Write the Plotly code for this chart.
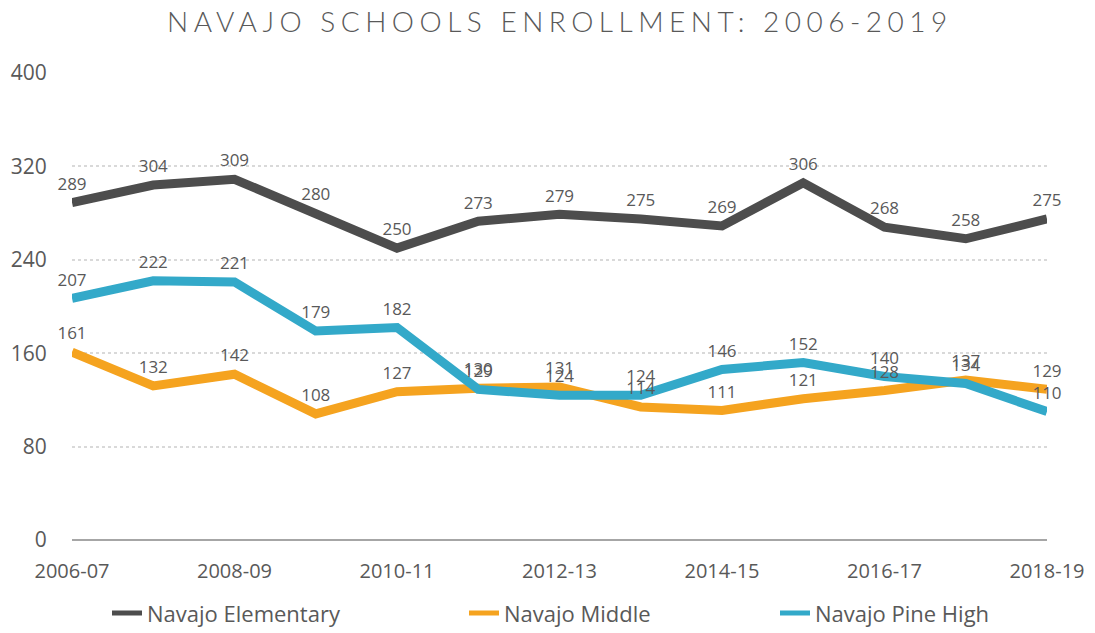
import plotly.graph_objects as go

years = ["2006-07", "2007-08", "2008-09", "2009-10", "2010-11", "2011-12", "2012-13",
         "2013-14", "2014-15", "2015-16", "2016-17", "2017-18", "2018-19"]
elementary = [289, 304, 309, 280, 250, 273, 279, 275, 269, 306, 268, 258, 275]
middle = [161, 132, 142, 108, 127, 130, 131, 114, 111, 121, 128, 137, 129]
pine_high = [207, 222, 221, 179, 182, 129, 124, 124, 146, 152, 140, 134, 110]
y_ticks = [0, 80, 160, 240, 320, 400]
x_ticks = ["2006-07", "2008-09", "2010-11", "2012-13", "2014-15", "2016-17", "2018-19"]

series = [
    ("Navajo Elementary", elementary, "#4d4d4d", "legend"),
    ("Navajo Middle", middle, "#f5a31f", "legend2"),
    ("Navajo Pine High", pine_high, "#33a9c9", "legend3"),
]
FONT = "Open Sans"

fig = go.Figure()
for name, vals, col, leg in series:
    fig.add_trace(go.Scatter(
        x=years, y=vals, name=name, mode="lines", showlegend=False,
        line=dict(color=col, width=9),
        hoverinfo="x+y+name",
    ))
    # legend-only entry with a thinner key line
    fig.add_trace(go.Scatter(
        x=[None], y=[None], name=name, mode="lines", legend=leg,
        line=dict(color=col, width=5), hoverinfo="skip",
    ))
# value labels
for name, vals, col, leg in series:
    fig.add_trace(go.Scatter(
        x=years, y=vals, mode="markers+text", showlegend=False,
        marker=dict(size=12, opacity=0, color=col),
        text=[str(v) for v in vals], textposition="top center",
        textfont=dict(size=17, color="#595959", family=FONT),
        cliponaxis=False, hoverinfo="skip",
    ))

# one legend per series so the spacing can follow the original
leg_style = dict(orientation="h", xref="container", yref="container",
                 xanchor="left", yanchor="middle", y=0.044,
                 font=dict(size=22, color="#595959", family=FONT), itemwidth=30,
                 bgcolor="rgba(0,0,0,0)")

fig.update_layout(
    width=1095, height=633,
    margin=dict(l=64, r=56, t=65, b=101),
    paper_bgcolor="white", plot_bgcolor="white",
    font=dict(family=FONT, color="#595959"),
    title=dict(
        text='<span style="letter-spacing:5.5px">NAVAJO SCHOOLS ENROLLMENT: 2006-2019</span>',
        x=0.504, xanchor="center", y=0.978, yanchor="middle",
        font=dict(size=28, color="#595959", family="Lato", weight=300),
    ),
    showlegend=True,
    legend=dict(leg_style, x=99 / 1095),
    legend2=dict(leg_style, x=456 / 1095),
    legend3=dict(leg_style, x=767 / 1095),
    xaxis=dict(
        type="category", categoryorder="array", categoryarray=years,
        range=[0, 12], tickmode="array", tickvals=x_ticks, ticktext=x_ticks,
        showgrid=False, showline=False, zeroline=False, automargin=False,
        ticks="outside", ticklen=13, tickcolor="rgba(0,0,0,0)",
        tickfont=dict(size=20, color="#595959", family=FONT),
    ),
    yaxis=dict(
        range=[0, 400], tickvals=y_ticks, showgrid=True, automargin=False,
        gridcolor="#d9d9d9", griddash="dot", gridwidth=1.5,
        zeroline=True, zerolinecolor="#a6a6a6", zerolinewidth=2,
        ticks="outside", ticklen=20, tickcolor="rgba(0,0,0,0)",
        tickfont=dict(size=21, color="#595959", family=FONT),
    ),
)

fig.write_html("out.html")
